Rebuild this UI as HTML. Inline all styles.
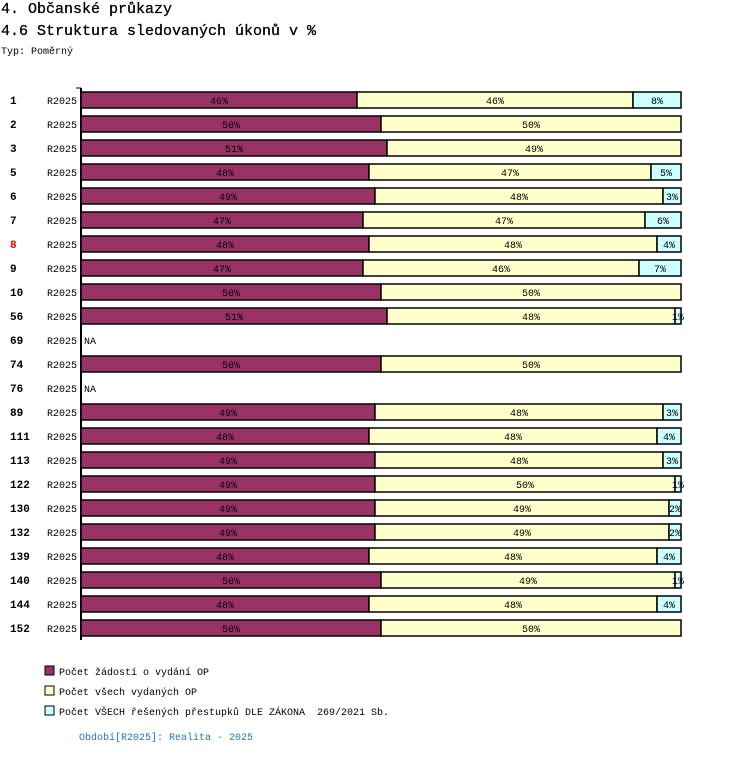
<!DOCTYPE html>
<html><head><meta charset="utf-8"><style>
body{margin:0;background:#fff;width:750px;height:754px;overflow:hidden;font-family:"Liberation Mono",monospace;}
svg text{font-family:"Liberation Mono",monospace;}
</style></head><body>
<svg width="750" height="754" xmlns="http://www.w3.org/2000/svg" id="chart">
<text x="1" y="13" font-size="15" stroke="#000" stroke-width="0.3">4. Občanské průkazy</text>
<text x="1" y="35" font-size="15" stroke="#000" stroke-width="0.3">4.6 Struktura sledovaných úkonů v %</text>
<text x="1" y="54" font-size="10">Typ: Poměrný</text>
<line x1="81" y1="88" x2="81" y2="640" stroke="#000" stroke-width="2"/>
<line x1="76" y1="88" x2="81" y2="88" stroke="#000"/>
<g id="bars"></g>
<g>
<rect x="45" y="666" width="9" height="9" fill="#993366" stroke="#000"/>
<text x="59" y="675" font-size="10">Počet žádostí o vydání OP</text>
<rect x="45" y="686" width="9" height="9" fill="#ffffcc" stroke="#000"/>
<text x="59" y="695" font-size="10">Počet všech vydaných OP</text>
<rect x="45" y="706" width="9" height="9" fill="#ccffff" stroke="#000"/>
<text x="59" y="715" font-size="10" xml:space="preserve">Počet VŠECH řešených přestupků DLE ZÁKONA  269/2021 Sb.</text>
</g>
<text x="79" y="740" font-size="10" fill="#1a78c2">Období[R2025]: Realita - 2025</text>
</svg>
<script>
const categories=["1","2","3","5","6","7","8","9","10","56","69","74","76","89","111","113","122","130","132","139","140","144","152"];
const seriesRequests=[46,50,51,48,49,47,48,47,50,51,null,50,null,49,48,49,49,49,49,48,50,48,50];
const seriesIssued=[46,50,49,47,48,47,48,46,50,48,null,50,null,48,48,48,50,49,49,48,49,48,50];
const seriesOffences=[8,0,0,5,3,6,4,7,0,1,null,0,null,3,4,3,1,2,2,4,1,4,0];
const colors=["#993366","#ffffcc","#ccffff"];
const X0=81,W=600,Y0=100,STEP=24,H=16;
const xScale=v=>v/100*W;
const yScale=i=>Y0+i*STEP;
const g=document.getElementById('bars');
const NS="http://www.w3.org/2000/svg";
function mk(tag,attrs){const e=document.createElementNS(NS,tag);for(const k in attrs)e.setAttribute(k,attrs[k]);return e;}
categories.forEach((c,i)=>{
  const y=yScale(i);
  const t=mk('text',{x:10,y:y+4,'font-size':11,'font-weight':'bold',fill:c==="8"?"#e00":"#000"});
  t.textContent=c;
  
  
  g.appendChild(t);
  const p=mk('text',{x:47,y:y+4,'font-size':10});
  p.textContent="R2025";
  
  
  g.appendChild(p);
  const vals=[seriesRequests[i],seriesIssued[i],seriesOffences[i]];
  if(vals[0]===null){
    const na=mk('text',{x:84,y:y+4,'font-size':10});
    na.textContent="NA";
    
    
    g.appendChild(na);return;
  }
  const sum=vals.reduce((a,b)=>a+b,0);
  let acc=0;
  vals.forEach((v,k)=>{
    if(!v)return;
    const x=X0+xScale(acc/sum*100), w=xScale(v/sum*100);
    acc+=v;
    const r=mk('rect',{x:x,y:y-H/2,width:w,height:H,fill:colors[k],stroke:"#000","stroke-width":1.5});
    
    
    g.appendChild(r);
    const l=mk('text',{x:x+w/2,y:y+4,'font-size':10,'text-anchor':'middle'});
    l.textContent=v+"%";
    
    
    g.appendChild(l);
  });
});
</script>
</body></html>
